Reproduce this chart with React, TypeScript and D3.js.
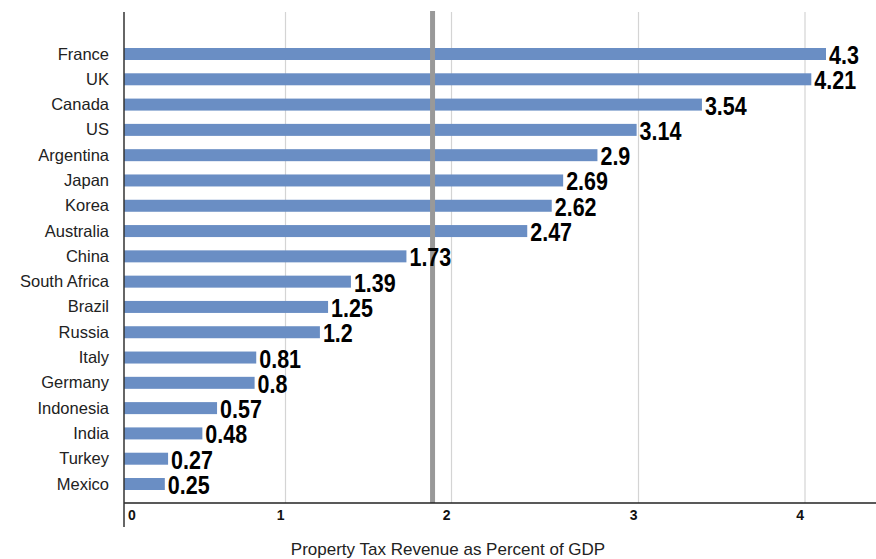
import React, { useEffect, useRef } from 'react';
import * as d3 from 'd3';

// Property tax revenue as percent of GDP
const countries = [
  'France', 'UK', 'Canada', 'US', 'Argentina', 'Japan', 'Korea', 'Australia', 'China',
  'South Africa', 'Brazil', 'Russia', 'Italy', 'Germany', 'Indonesia', 'India', 'Turkey', 'Mexico',
];
const values = [
  4.3, 4.21, 3.54, 3.14, 2.9, 2.69, 2.62, 2.47, 1.73,
  1.39, 1.25, 1.2, 0.81, 0.8, 0.57, 0.48, 0.27, 0.25,
];
const tickValues = [0, 1, 2, 3, 4];
const referenceValue = 1.89;
const axisTitle = 'Property Tax Revenue as Percent of GDP';

const WIDTH = 876;
const HEIGHT = 559;

export default function App() {
  const svgRef = useRef<SVGSVGElement>(null);

  useEffect(() => {
    if (!svgRef.current) return;
    const svg = d3.select(svgRef.current);
    svg.selectAll('*').remove();

    const left = 124;
    const top = 12;
    const axisY = 503;

    // bar lengths
    const x = d3.scaleLinear().domain([0, 4.3]).range([left, 826]);
    // grid is drawn on its own, uneven positions in the original
    const grid = d3.scaleLinear().domain(tickValues).range([left, 285.5, 451.5, 638.5, 805]);
    const y = d3.scalePoint<string>().domain(countries).range([54, 484]);
    const barH = 12;

    // gridlines
    svg.append('g')
      .selectAll('line')
      .data(tickValues.slice(1))
      .enter()
      .append('line')
      .attr('x1', d => grid(d))
      .attr('x2', d => grid(d))
      .attr('y1', top)
      .attr('y2', axisY)
      .attr('stroke', '#d4d4d4')
      .attr('stroke-width', 1.2);

    // bars
    svg.append('g')
      .selectAll('rect')
      .data(countries)
      .enter()
      .append('rect')
      .attr('x', left)
      .attr('y', d => (y(d) as number) - barH / 2)
      .attr('width', (d, i) => x(values[i]) - left)
      .attr('height', barH)
      .attr('fill', '#6a8ec4');

    // reference line
    svg.append('line')
      .attr('x1', x(referenceValue))
      .attr('x2', x(referenceValue))
      .attr('y1', 11)
      .attr('y2', axisY)
      .attr('stroke', '#999999')
      .attr('stroke-width', 5);

    // value labels (condensed bold look via horizontal squeeze)
    svg.append('g')
      .selectAll('text')
      .data(countries)
      .enter()
      .append('text')
      .attr('transform', (d, i) =>
        `translate(${x(values[i]) + 3},${(y(d) as number) + 10}) scale(0.86,1)`)
      .attr('font-family', '"Liberation Sans", Arial, sans-serif')
      .attr('font-weight', 'bold')
      .attr('font-size', '25px')
      .attr('fill', '#000')
      .text((d, i) => String(values[i]));

    // category labels
    svg.append('g')
      .selectAll('text')
      .data(countries)
      .enter()
      .append('text')
      .attr('x', 109)
      .attr('y', d => (y(d) as number) + 5.5)
      .attr('text-anchor', 'end')
      .attr('font-family', '"Liberation Sans", Arial, sans-serif')
      .attr('font-size', '16.5px')
      .attr('fill', '#222')
      .text(d => d);

    // axes
    svg.append('line')
      .attr('x1', left)
      .attr('x2', WIDTH)
      .attr('y1', axisY)
      .attr('y2', axisY)
      .attr('stroke', '#222')
      .attr('stroke-width', 1.5);
    svg.append('line')
      .attr('x1', left)
      .attr('x2', left)
      .attr('y1', top)
      .attr('y2', 527)
      .attr('stroke', '#333')
      .attr('stroke-width', 1.5);

    // tick labels
    svg.append('g')
      .selectAll('text')
      .data(tickValues)
      .enter()
      .append('text')
      .attr('x', d => (d === 0 ? grid(d) + 4 : grid(d) - 1))
      .attr('y', 520)
      .attr('text-anchor', d => (d === 0 ? 'start' : 'end'))
      .attr('font-family', '"Liberation Sans", Arial, sans-serif')
      .attr('font-weight', 'bold')
      .attr('font-size', '14px')
      .attr('fill', '#111')
      .text(d => String(d));

    // axis title
    svg.append('text')
      .attr('x', 448)
      .attr('y', 555)
      .attr('text-anchor', 'middle')
      .attr('font-family', '"Liberation Sans", Arial, sans-serif')
      .attr('font-size', '17px')
      .attr('fill', '#222')
      .text(axisTitle);
  }, []);

  return (
    <svg
      ref={svgRef}
      width={WIDTH}
      height={HEIGHT}
      style={{ position: 'absolute', left: 0, top: 0, display: 'block' }}
    />
  );
}
